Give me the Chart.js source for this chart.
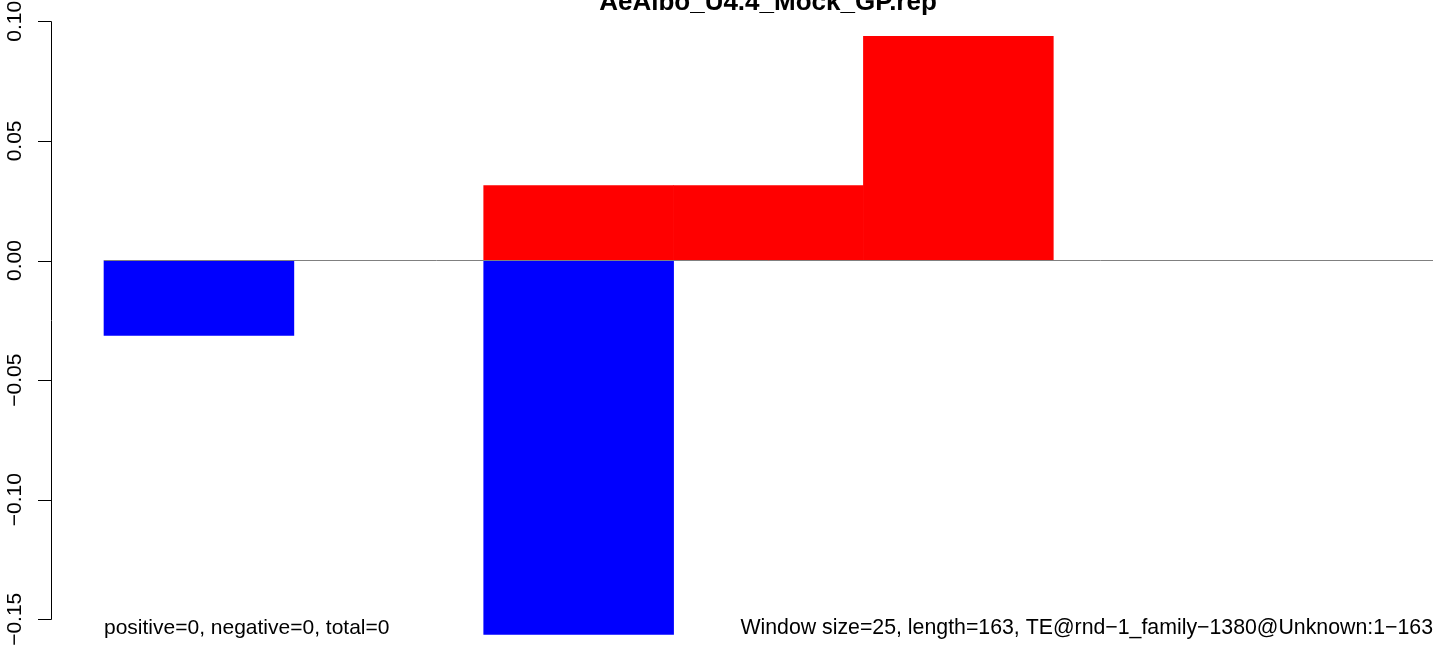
<!DOCTYPE html>
<html>
<head>
<meta charset="utf-8">
<script src="https://cdn.jsdelivr.net/npm/chart.js@4.4.1/dist/chart.umd.min.js"></script>
<style>
  html, body { margin: 0; padding: 0; background: #fff; }
  #wrap { width: 1444px; height: 656px; position: relative; }
</style>
</head>
<body>
<div id="wrap"><canvas id="barChart"></canvas></div>
<script>
// windows of 25 along a 163 bp TE, indexed 0..6
const windows = [0, 1, 2, 3, 4, 5, 6];
const positiveValues = [null, null, 0.0313, 0.0313, 0.0937, null, null];
const negativeValues = [-0.0313, null, -0.1563, null, null, null, null];
const yTicks = [-0.15, -0.10, -0.05, 0.00, 0.05, 0.10];
const yTickLabels = ['\u22120.15', '\u22120.10', '\u22120.05', '0.00', '0.05', '0.10'];
const chartTitle = 'AeAlbo_U4.4_Mock_GP.rep';
const leftNote = 'positive=0, negative=0, total=0';
const rightNote = 'Window size=25, length=163, TE@rnd\u22121_family\u22121380@Unknown:1\u2212163';

const FONT = '"Liberation Sans", Arial, Helvetica, sans-serif';

// R-style axis, title and notes
const rDecor = {
    id: 'rDecor',
    afterDraw(chart) {
        const ctx = chart.ctx;
        const y = chart.scales.y;
        const x = chart.scales.x;
        const axisX = chart.chartArea.left + 0.5;
        ctx.save();
        ctx.strokeStyle = '#000';
        ctx.lineWidth = 1;
        ctx.beginPath();
        ctx.moveTo(axisX, Math.round(y.getPixelForValue(yTicks[yTicks.length - 1])) + 0.5);
        ctx.lineTo(axisX, Math.round(y.getPixelForValue(yTicks[0])) + 0.5);
        yTicks.forEach(function (t) {
            const py = Math.round(y.getPixelForValue(t)) + 0.5;
            ctx.moveTo(axisX, py);
            ctx.lineTo(axisX - 13.5, py);
        });
        ctx.stroke();

        ctx.fillStyle = '#000';
        ctx.font = '21px ' + FONT;
        ctx.textAlign = 'center';
        ctx.textBaseline = 'alphabetic';
        yTicks.forEach(function (t, i) {
            ctx.save();
            ctx.translate(21, y.getPixelForValue(t));
            ctx.rotate(-Math.PI / 2);
            ctx.fillText(yTickLabels[i], 0, 0);
            ctx.restore();
        });

        ctx.font = 'bold 26px ' + FONT;
        ctx.textAlign = 'center';
        ctx.fillText(chartTitle, 768, 10);

        ctx.font = '21px ' + FONT;
        ctx.textAlign = 'left';
        ctx.fillText(leftNote, x.getPixelForValue(windows[0]), 634);
        ctx.font = '21.3px ' + FONT;
        ctx.textAlign = 'right';
        ctx.fillText(rightNote, x.getPixelForValue(windows.length), 634);
        ctx.restore();
    }
};

document.addEventListener('DOMContentLoaded', function () {
    const ctxBar = document.getElementById('barChart').getContext('2d');
    const barChart = new Chart(ctxBar, {
        type: 'bar',
        data: {
            datasets: [{
                type: 'line',
                label: 'zero',
                data: [{ x: windows[0], y: 0 }, { x: windows.length, y: 0 }],
                borderColor: '#808080',
                borderWidth: 1,
                pointRadius: 0,
                order: 0
            }, {
                label: 'positive',
                data: windows.map((w, i) => ({ x: w + 0.5, y: positiveValues[i] })),
                backgroundColor: '#ff0000',
                borderWidth: 0,
                barPercentage: 1,
                categoryPercentage: 1,
                grouped: false,
                order: 1
            }, {
                label: 'negative',
                data: windows.map((w, i) => ({ x: w + 0.5, y: negativeValues[i] })),
                backgroundColor: '#0000ff',
                borderWidth: 0,
                barPercentage: 1,
                categoryPercentage: 1,
                grouped: false,
                order: 1
            }]
        },
        options: {
            responsive: true,
            maintainAspectRatio: false,
            animation: false,
            layout: { padding: { left: 51, top: 13, right: 0, bottom: 0 } },
            plugins: {
                legend: { display: false },
                tooltip: { enabled: false },
                title: { display: false }
            },
            scales: {
                x: {
                    type: 'linear',
                    display: false,
                    offset: false,
                    min: -0.2792,
                    max: 7.0579
                },
                y: {
                    display: false,
                    min: -0.16534,
                    max: 0.10347
                }
            }
        },
        plugins: [rDecor]
    });
});
</script>
</body>
</html>
